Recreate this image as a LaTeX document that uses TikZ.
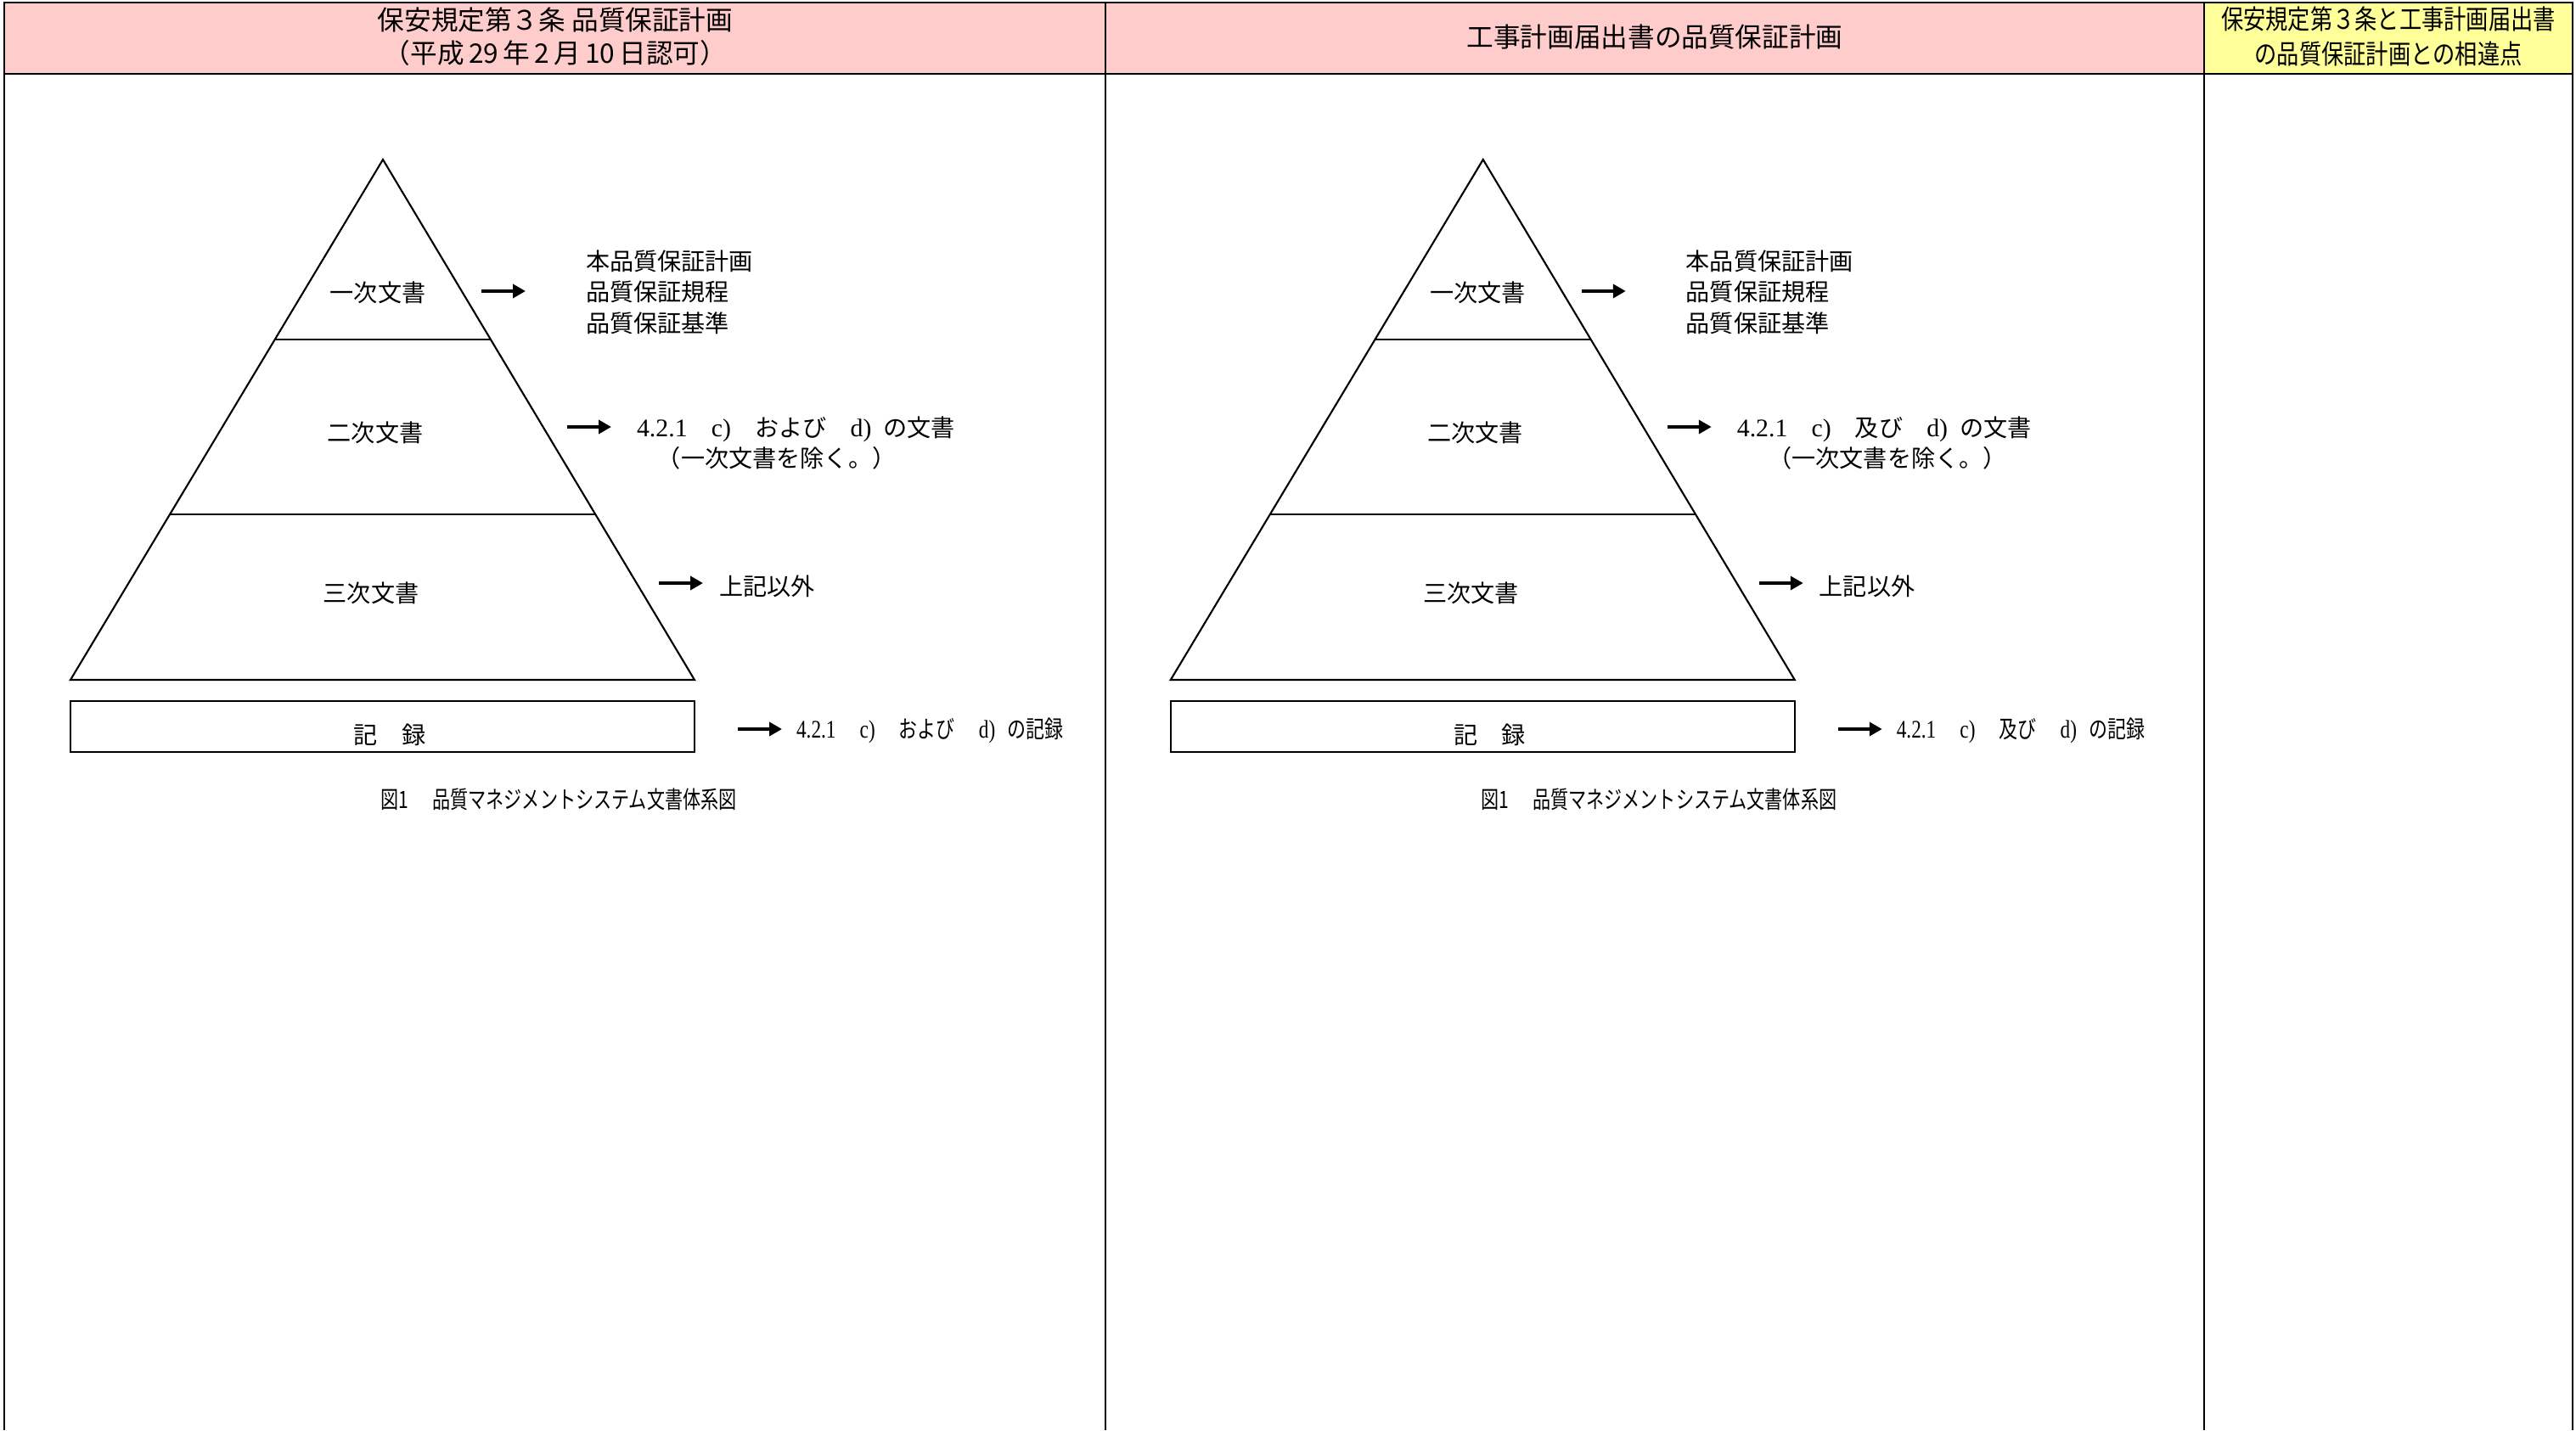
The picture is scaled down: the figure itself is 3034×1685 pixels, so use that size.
\documentclass[tikz,border=0pt]{standalone}
\usepackage{fontspec}
\setmainfont{Noto Sans CJK JP}
\newfontfamily\lat[Scale=1.06]{Liberation Serif}
\newfontfamily\latn[FakeStretch=0.78,Scale=1.06]{Liberation Serif}
\newfontfamily\jpn[FakeStretch=0.78]{Noto Sans CJK JP}
\newfontfamily\jpc[FakeStretch=0.75]{Noto Sans CJK JP}
\newfontfamily\jph[FakeStretch=0.83]{Noto Sans CJK JP}
\usetikzlibrary{arrows.meta, calc, positioning}
\definecolor{hdrpink}{HTML}{FFCCCC}
\definecolor{hdryellow}{HTML}{FFFF99}
\tikzset{
  txt/.style={inner sep=0pt, font=\fontsize{8pt}{10.4pt}\selectfont},
  lst/.style={txt, anchor=west, align=left},
  hdr/.style={inner sep=0pt, align=center, font=\fontsize{9pt}{11pt}\selectfont},
  arr/.style={line width=1.1pt, -{Triangle[length=0.15cm,width=0.16cm]}},
}

\begin{document}
\begin{tikzpicture}[x=0.01cm, y=-0.01cm, line width=0.6pt]
        \useasboundingbox (0,0) rectangle (3034,1685);
        % header row
        \fill[hdrpink] (5,3) rectangle (2596,87);
        \fill[hdryellow] (2596,3) rectangle (3030,87);
        \draw (5,1685) -- (5,3) -- (3030,3) -- (3030,1685);
        \draw (5,87) -- (3030,87);
        \draw (1302,3) -- (1302,1685);
        \draw (2596,3) -- (2596,1685);

        \node[hdr] (hdrL) at (654,43) {保安規定第３条 品質保証計画\\（平成\,29\,年\,2\,月\,10\,日認可）};
        \node[hdr] (hdrR) at (1949,43) {工事計画届出書の品質保証計画};
        \node[hdr, font=\fontsize{9pt}{11.5pt}\selectfont\jph] (hdrD) at (2813,43) {保安規定第３条と工事計画届出書\\の品質保証計画との相違点};

        % the two pyramids
        \foreach \ox/\conj/\ind/\p in {0/および/0.85/L, 12.95/及び/1.3/R} {%
          \begin{scope}[xshift=\ox cm]
            \coordinate (apex\p) at (451,188);
            \coordinate (bl\p) at (83,801);
            \coordinate (br\p) at (818,801);
            \draw (apex\p) -- (bl\p) -- (br\p) -- cycle;
            \draw ($(apex\p)!0.346!(bl\p)$) -- ($(apex\p)!0.346!(br\p)$);
            \draw ($(apex\p)!0.682!(bl\p)$) -- ($(apex\p)!0.682!(br\p)$);
            \node[txt] (doc1\p) at (445,345) {一次文書};
            \node[txt] (doc2\p) at (442,510) {二次文書};
            \node[txt] (doc3\p) at (437,699) {三次文書};
            \node[draw, minimum width=7.35cm, minimum height=0.6cm] (rec\p) at (450.5,856) {};
            \node[txt] (recl\p) at (459,866) {記\hspace{1em}録};

            \node[lst] (t1\p) at (689,344) {本品質保証計画\\品質保証規程\\品質保証基準};
            \node[lst] (t2\p) at (749,522) {{\lat 4.2.1}\quad{\lat c)}\quad \conj\quad{\lat d)}\enspace の文書\\\hspace*{\ind em}（一次文書を除く。）};
            \node[lst] (t3\p) at (846,691) {上記以外};
            \node[lst] (t4\p) at (937,861) {{\latn 4.2.1}\quad{\latn c)}\quad{\jpn\conj}\quad{\latn d)}\enspace{\jpn の記録}};
            \node[txt, font=\fontsize{8pt}{10pt}\selectfont\jpc] (cap\p) at (658,942) {図1\quad 品質マネジメントシステム文書体系図};

            \coordinate (a1\p) at (567,343);
            \coordinate (b1\p) at (619,343);
            \coordinate (a2\p) at (668,503);
            \coordinate (b2\p) at (720,503);
            \coordinate (a3\p) at (776,687);
            \coordinate (b3\p) at (828,687);
            \coordinate (a4\p) at (869,859);
            \coordinate (b4\p) at (921,859);
            \foreach \k in {1,2,3,4}
              \draw[arr] (a\k\p) -- (b\k\p);
          \end{scope}
        }
\end{tikzpicture}
\end{document}
